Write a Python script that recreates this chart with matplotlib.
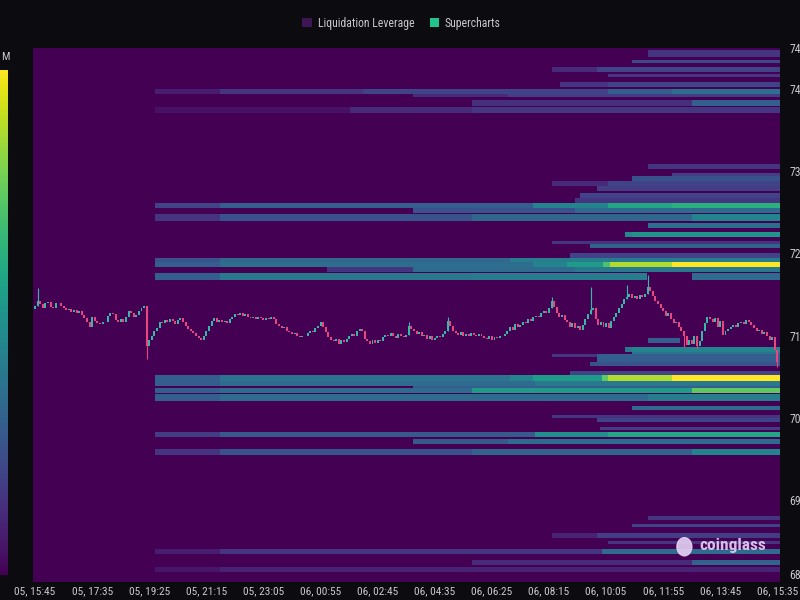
import numpy as np
import matplotlib
matplotlib.use('Agg')
import matplotlib.pyplot as plt
from matplotlib import font_manager
from matplotlib.patches import Patch, Ellipse

# 5 minute candles from 05, 15:45 (close prices)
closes = [
    71360, 71420, 71380, 71340, 71395, 71410, 71350, 71330, 71390, 71400, 71360,
    71330, 71310, 71320, 71290, 71305, 71280, 71300,
    71250, 71210, 71170, 71110,
    71230,
    71180, 71150, 71140, 71170, 71160,
    71240, 71280, 71260,
    71190, 71170, 71200, 71160,
    71230, 71300, 71270,
    71220, 71250,
    71300, 71340, 71360,
    70870,
    70950, 71000, 71050, 71090,
    71170, 71150, 71190, 71160, 71200, 71180, 71140, 71190, 71210, 71170,
    71120, 71080, 71060, 71030, 71000, 70970, 70940,
    70990, 71060, 71120, 71180, 71210,
    71170, 71190, 71160, 71180, 71150, 71200,
    71230, 71260, 71250, 71280, 71240, 71260, 71230,
    71210, 71220, 71200, 71230, 71210, 71190, 71215, 71200, 71220, 71200,
    71140, 71120, 71090, 71100, 71060, 71040, 71020, 71030, 71000,
    70980, 71000, 70990,
    71030, 71060, 71040, 71090, 71120, 71160,
    71100, 71040, 70980, 70950,
    70930, 70960, 70900, 70940, 70920, 70960,
    70990, 71020, 71000,
    71050, 71080, 71060,
    70960, 70930, 70900, 70940, 70910, 70950, 70930,
    70980, 71010, 70990, 71030, 71000, 70970, 71020, 71000, 70980, 71010,
    71120, 71080,
    71050, 71020, 71040, 70990, 71010, 70960, 70990, 70940, 70970, 71000, 70980,
    71020, 71060,
    71180, 71120, 71060,
    71030, 71010, 71040, 71000, 71020, 70990, 71030, 71010, 71000, 71020,
    70990, 70970, 70960, 70990, 70950, 70980, 70970, 71000, 70990, 71020,
    71060, 71100, 71070, 71140, 71110,
    71130, 71170, 71150, 71200, 71180, 71220, 71240,
    71220, 71270, 71300, 71280, 71330,
    71420,
    71350, 71280, 71230, 71250, 71190,
    71170, 71110, 71150, 71090, 71120, 71070, 71130,
    71200, 71260, 71310, 71340,
    71200, 71130,
    71160, 71100, 71150, 71090, 71180, 71220,
    71280, 71330, 71380, 71440, 71470, 71500,
    71460, 71480, 71440, 71490, 71470, 71500, 71590,
    71540, 71480, 71420, 71380, 71330, 71300,
    71240, 71270, 71200, 71150, 71170, 71110,
    71050, 70990, 70880, 70950, 70900, 70990, 70870, 70930,
    71050, 71150, 71230, 71200,
    71160, 71210, 71100, 71180, 71010, 71060,
    71080, 71110, 71130, 71100, 71150, 71170, 71140, 71190, 71160, 71130,
    71090, 71060, 71070, 71020, 71040, 70990,
    70950, 70980, 70820, 70680,
]
first_open = 71320
# long wicks: candle index -> (high, low)
wicks = {1: (71580, None), 43: (None, 70710), 144: (71160, None), 159: (71230, None),
         199: (71470, None), 214: (71590, None), 228: (71615, None), 236: (71735, None),
         250: (None, 70855), 255: (None, 70850), 286: (None, 70620)}

tick_minutes = list(range(0, 1431, 110))
tick_labels = ['05, 15:45', '05, 17:35', '05, 19:25', '05, 21:15', '05, 23:05',
               '06, 00:55', '06, 02:45', '06, 04:35', '06, 06:25', '06, 08:15',
               '06, 10:05', '06, 11:55', '06, 13:45', '06, 15:35']
price_ticks = [68000, 69000, 70000, 71000, 72000, 73000, 74000, 74500]
# the price labels are cut by the right edge in the reference, only these digits show
price_labels = ['68', '69', '70', '71', '72', '73', '74', '74']

# liquidation bands: (price low, price high, [(start minute, level 0-1), ...])
bands = [
    (74386, 74470, [(1181, 0.15)]),
    (74314, 74362, [(1150, 0.22)]),
    (74205, 74266, [(996, 0.12), (1082, 0.2)]),
    (74145, 74181, [(1104, 0.15)]),
    (74025, 74085, [(1011, 0.15), (1104, 0.2)]),
    (73940, 74000, [(231, 0.08), (356, 0.15), (632, 0.2), (1104, 0.3), (1227, 0.36)]),
    (73904, 73940, [(728, 0.12), (911, 0.18)]),
    (73796, 73868, [(842, 0.14), (1265, 0.3)]),
    (73711, 73784, [(231, 0.05), (607, 0.12), (842, 0.16)]),
    (73024, 73085, [(1181, 0.15)]),
    (72940, 72976, [(1227, 0.18)]),
    (72880, 72940, [(1150, 0.25)]),
    (72820, 72880, [(996, 0.12), (1104, 0.2)]),
    (72759, 72820, [(1082, 0.18)]),
    (72675, 72735, [(1050, 0.2)]),
    (72615, 72675, [(1040, 0.15)]),
    (72554, 72615, [(231, 0.2), (356, 0.3), (959, 0.45), (1104, 0.6), (1227, 0.64)]),
    (72494, 72554, [(728, 0.25), (1040, 0.35)]),
    (72398, 72482, [(231, 0.15), (356, 0.25), (842, 0.33), (1265, 0.45)]),
    (72313, 72374, [(1181, 0.36)]),
    (72193, 72253, [(1136, 0.48), (1150, 0.52)]),
    (72108, 72157, [(996, 0.15)]),
    (72060, 72108, [(1069, 0.32)]),
    (71940, 72000, [(1030, 0.2)]),
    (71892, 71940, [(231, 0.25), (356, 0.33), (915, 0.42)]),
    (71831, 71892, [(231, 0.3), (356, 0.36), (959, 0.45), (1025, 0.55), (1094, 0.72),
                    (1108, 0.88), (1227, 1.0)]),
    (71771, 71831, [(562, 0.15), (728, 0.35), (1040, 0.4)]),
    (71675, 71759, [(231, 0.3), (356, 0.4), (842, 0.42), (1179, 0.0), (1265, 0.35)]),
    (70916, 70976, [(1181, 0.3), (1242, 0.0)]),
    (70807, 70867, [(1136, 0.4), (1150, 0.45)]),
    (70771, 70807, [(1150, 0.38)]),
    (70735, 70771, [(996, 0.15), (1082, 0.3)]),
    (70675, 70735, [(1082, 0.3)]),
    (70626, 70675, [(1069, 0.25)]),
    (70518, 70566, [(1030, 0.2)]),
    (70446, 70518, [(231, 0.3), (356, 0.38), (915, 0.45), (959, 0.55), (1092, 0.75),
                    (1104, 0.88), (1227, 1.0)]),
    (70385, 70446, [(231, 0.3), (356, 0.35), (963, 0.4)]),
    (70360, 70385, [(728, 0.3)]),
    (70301, 70360, [(231, 0.3), (356, 0.35), (842, 0.55), (1265, 0.75)]),
    (70205, 70289, [(231, 0.3), (356, 0.35), (1181, 0.42)]),
    (70096, 70144, [(1150, 0.35)]),
    (70000, 70036, [(996, 0.15)]),
    (69952, 70000, [(1082, 0.2)]),
    (69843, 69891, [(1088, 0.18)]),
    (69771, 69831, [(231, 0.18), (356, 0.28), (963, 0.5), (1104, 0.6)]),
    (69687, 69747, [(728, 0.28), (911, 0.35)]),
    (69542, 69626, [(231, 0.15), (356, 0.25), (842, 0.32), (1265, 0.45)]),
    (68759, 68807, [(1181, 0.15)]),
    (68663, 68699, [(1150, 0.2)]),
    (68542, 68602, [(996, 0.1), (1082, 0.18)]),
    (68458, 68506, [(1104, 0.15)]),
    (68337, 68398, [(231, 0.08), (356, 0.15), (1092, 0.35)]),
    (68205, 68265, [(842, 0.12), (1265, 0.32)]),
    (68120, 68181, [(231, 0.06), (356, 0.1)]),
]

# pick a narrow font if there is one
names = {f.name for f in font_manager.fontManager.ttflist}
fam = [n for n in ['Liberation Sans Narrow', 'Roboto Condensed', 'DejaVu Sans Condensed', 'Roboto'] if n in names]
plt.rcParams['font.family'] = fam + ['DejaVu Sans']

bg = '#0b0b10'
txt = '#c8c8cc'
fig = plt.figure(figsize=(8, 6), dpi=100, facecolor=bg)
ax = fig.add_axes([33/800, 18/600, 747/800, 534/600])
ax.set_facecolor(bg)

# heatmap grid
t_edges = np.arange(-5, 1441, 1.0)
p_edges = np.arange(68000, 74505, 5.0)
tc = (t_edges[:-1] + t_edges[1:]) / 2
pc = (p_edges[:-1] + p_edges[1:]) / 2
Z = np.zeros((len(pc), len(tc)))
for lo, hi, steps in bands:
    rows = (pc >= lo) & (pc < hi)
    for k, (start, lvl) in enumerate(steps):
        end = steps[k + 1][0] if k + 1 < len(steps) else 1e9
        cols = (tc >= start) & (tc < end)
        Z[np.ix_(rows, cols)] = lvl
ax.imshow(Z, origin='lower', aspect='auto', cmap='viridis', vmin=0, vmax=1,
          extent=(t_edges[0], t_edges[-1], p_edges[0], p_edges[-1]),
          interpolation='nearest', zorder=1)

# candles
closes = np.array(closes, dtype=float)
opens = np.concatenate([[first_open], closes[:-1]])
t = np.arange(len(closes)) * 5.0
up = closes >= opens
cols = np.where(up, '#35b8a6', '#e8467f')
body = np.maximum(np.abs(closes - opens), 8)
ax.bar(t, body, bottom=np.minimum(opens, closes), width=3.8, color=cols, zorder=3, linewidth=0)
for i, (hi, lo) in wicks.items():
    top = hi if hi is not None else max(opens[i], closes[i])
    bot = lo if lo is not None else min(opens[i], closes[i])
    ax.vlines(t[i], bot, top, color=cols[i], linewidth=0.8, zorder=3)

ax.set_xlim(-4, 1435)
ax.set_ylim(68030, 74500)
ax.set_xticks(tick_minutes)
ax.set_xticklabels(tick_labels)
ax.set_yticks(price_ticks)
ax.set_yticklabels(price_labels)
ax.yaxis.tick_right()
ax.tick_params(colors=txt, length=0, labelsize=8.5)
ax.tick_params(axis='y', pad=7)
ax.tick_params(axis='x', pad=3, labelsize=8.2)
ax.get_yticklabels()[0].set_va('bottom')
for s in ax.spines.values():
    s.set_visible(False)

# watermark
ax.text(0.982, 0.068, 'coinglass', transform=ax.transAxes, ha='right', va='center',
        fontsize=12.5, fontweight='bold', color='#e4cdf2', alpha=0.92, zorder=4)
ax.add_patch(Ellipse((0.872, 0.066), 0.02, 0.034, transform=ax.transAxes,
                     color='#e4cdf2', alpha=0.92, zorder=4))

# colour scale strip on the left
cax = fig.add_axes([-7/800, 25/600, 14/800, 505/600])
cax.imshow(np.linspace(0, 1, 256)[:, None], origin='lower', aspect='auto', cmap='viridis')
cax.axis('off')
fig.text(1/800, 1 - 57/600, 'M', color=txt, fontsize=8, va='center', ha='left')

handles = [Patch(facecolor='#3c1652', label='Liquidation Leverage'),
           Patch(facecolor='#22c38c', label='Supercharts')]
fig.legend(handles=handles, loc='center', bbox_to_anchor=(0.502, 1 - 23/600), ncol=2,
           frameon=False, fontsize=8.5, labelcolor=txt, handlelength=0.8, handleheight=0.8,
           handletextpad=0.5, columnspacing=1.3)

fig.savefig('out.png', dpi=100, facecolor=bg)
